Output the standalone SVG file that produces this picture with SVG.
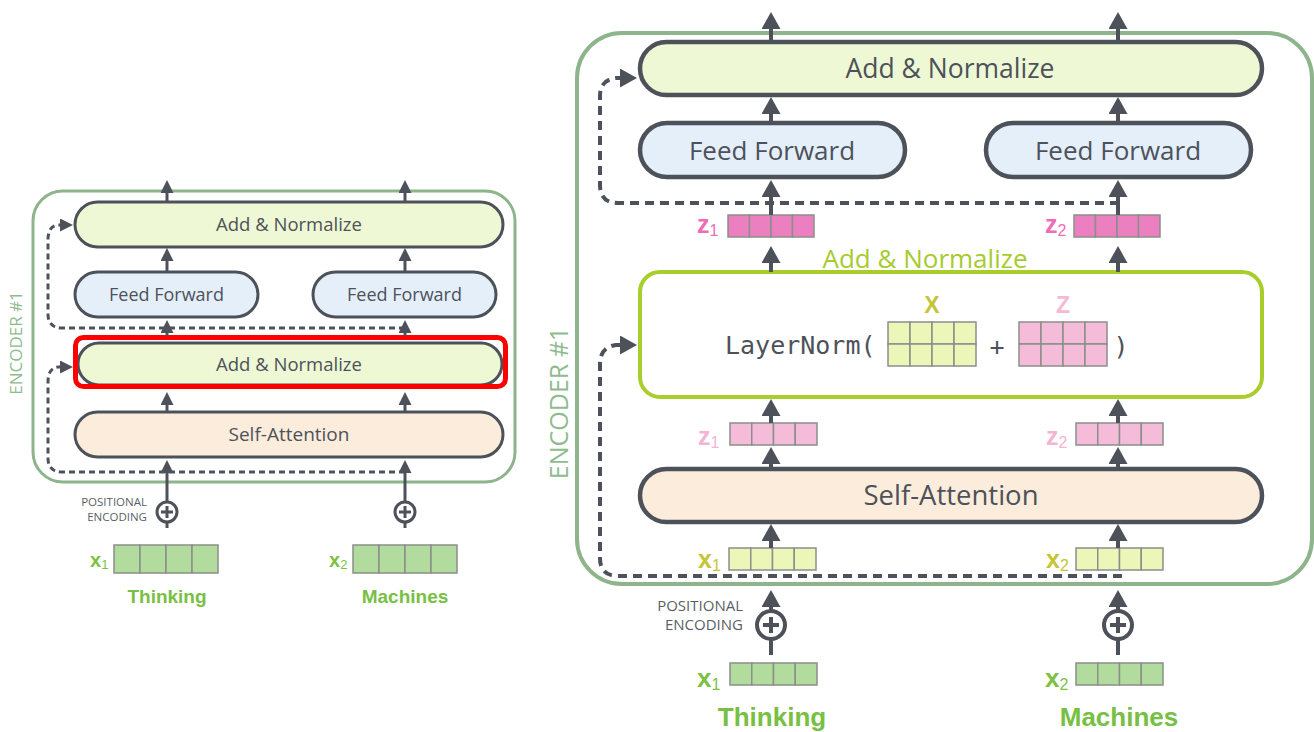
<svg xmlns="http://www.w3.org/2000/svg" width="1314" height="732" viewBox="0 0 1314 732">
<style>
.box{stroke:#4d525a;stroke-width:3}
.boxR{stroke:#4d525a;stroke-width:4.5}
.an{fill:#eef8d5}
.ff{fill:#e4effa}
.sa{fill:#fcecdc}
.lbl{font-family:"Open Sans","Liberation Sans",sans-serif;fill:#4d525a;text-anchor:middle}
.cont{fill:none;stroke:#8db48b}
.enc{font-family:"Open Sans","Liberation Sans",sans-serif;fill:#8fbb8f;text-anchor:middle}
.pos{font-family:"Open Sans","Liberation Sans",sans-serif;fill:#5a5f66;text-anchor:end}
.word{font-family:"Liberation Sans",Arial,sans-serif;font-weight:bold;fill:#77c043;text-anchor:middle}
.sym{font-family:"Liberation Sans",Arial,sans-serif;font-weight:bold}
.sub{font-weight:normal}
.arr{fill:none;stroke:#4d525a;stroke-width:4}
.arrS{fill:none;stroke:#4d525a;stroke-width:3}
.dash{fill:none;stroke:#4d525a;stroke-width:4;stroke-dasharray:9 6}
.dashS{fill:none;stroke:#4d525a;stroke-width:3;stroke-dasharray:6 4}
.cg rect{stroke:#8a8f8a;stroke-width:1.5}
.green rect{fill:#b2dc9e}
.yel rect{fill:#edf6b9}
.pk rect{fill:#f4bcd9}
.pkd rect{fill:#ec7fbf}
.oplus{fill:none;stroke:#4d525a}
</style>
<defs>
<marker id="ahL" markerUnits="userSpaceOnUse" markerWidth="17" markerHeight="19" refX="6" refY="9.5" orient="auto"><path d="M0,0 L17,9.5 L0,19 z" fill="#4d525a"/></marker>
<marker id="ahS" markerUnits="userSpaceOnUse" markerWidth="13" markerHeight="13" refX="4" refY="6.5" orient="auto"><path d="M0,0 L13,6.5 L0,13 z" fill="#4d525a"/></marker>
</defs>
<rect width="1314" height="732" fill="#ffffff"/>

<!-- ===== LEFT DIAGRAM ===== -->
<g id="left-encoder">
<rect class="cont" x="33" y="191" width="482" height="291" rx="30" stroke-width="3"/>
<text class="enc" font-size="17" transform="translate(22,343) rotate(-90)">ENCODER #1</text>
</g>
<g id="L-addnorm-top">
<rect class="box an" x="75" y="202" width="428" height="45" rx="22.5"/>
<text class="lbl" x="289" y="231" font-size="18.5">Add &amp; Normalize</text>
</g>
<g id="L-ff1">
<rect class="box ff" x="75" y="272" width="183" height="45" rx="22.5"/>
<text class="lbl" x="166.5" y="301" font-size="18">Feed Forward</text>
</g>
<g id="L-ff2">
<rect class="box ff" x="313" y="272" width="183" height="45" rx="22.5"/>
<text class="lbl" x="404.5" y="301" font-size="18">Feed Forward</text>
</g>
<g id="L-addnorm-1">
<rect class="box an" x="78" y="343" width="424" height="42" rx="21"/>
<text class="lbl" x="289" y="370.5" font-size="18.5">Add &amp; Normalize</text>
<rect x="75.5" y="337.5" width="430" height="49" rx="8" fill="none" stroke="#ff0000" stroke-width="5"/>
</g>
<g id="L-selfattn">
<rect class="box sa" x="75" y="412" width="428" height="45" rx="22.5"/>
<text class="lbl" x="289" y="441" font-size="19">Self-Attention</text>
</g>
<g id="L-pos">
<text class="pos" x="147" y="506" font-size="11.5">POSITIONAL</text>
<text class="pos" x="147" y="521" font-size="11.5">ENCODING</text>
</g>
<g id="L-oplus1">
<circle class="oplus" cx="167" cy="512" r="10" stroke-width="3"/>
<path d="M161,512 H173 M167,506 V518" stroke="#4d525a" stroke-width="3"/>
</g>
<g id="L-oplus2">
<circle class="oplus" cx="405" cy="512" r="10" stroke-width="3"/>
<path d="M399,512 H411 M405,506 V518" stroke="#4d525a" stroke-width="3"/>
</g>
<g id="L-x1">
<text class="sym" x="90" y="567" font-size="20" fill="#7cc142">x<tspan class="sub" font-size="13" dy="2">1</tspan></text>
<g class="cg green"><rect x="114" y="545" width="26" height="28"/><rect x="140" y="545" width="26" height="28"/><rect x="166" y="545" width="26" height="28"/><rect x="192" y="545" width="26" height="28"/></g>
<text class="word" x="167" y="603" font-size="19">Thinking</text>
</g>
<g id="L-x2">
<text class="sym" x="329" y="567" font-size="20" fill="#7cc142">x<tspan class="sub" font-size="13" dy="2">2</tspan></text>
<g class="cg green"><rect x="353" y="545" width="26" height="28"/><rect x="379" y="545" width="26" height="28"/><rect x="405" y="545" width="26" height="28"/><rect x="431" y="545" width="26" height="28"/></g>
<text class="word" x="405" y="603" font-size="19">Machines</text>
</g>

<!-- ===== RIGHT DIAGRAM ===== -->
<g id="right-encoder">
<rect class="cont" x="577" y="33" width="735" height="551" rx="45" stroke-width="4"/>
<text class="enc" font-size="25" transform="translate(568,403) rotate(-90)">ENCODER #1</text>
</g>
<g id="R-addnorm-top">
<rect class="boxR an" x="640" y="42" width="622" height="53" rx="26.5"/>
<text class="lbl" x="950" y="78" font-size="26.5">Add &amp; Normalize</text>
</g>
<g id="R-ff1">
<rect class="boxR ff" x="640" y="123" width="265" height="54" rx="27"/>
<text class="lbl" x="772" y="159.5" font-size="26">Feed Forward</text>
</g>
<g id="R-ff2">
<rect class="boxR ff" x="986" y="123" width="265" height="54" rx="27"/>
<text class="lbl" x="1118" y="159.5" font-size="26">Feed Forward</text>
</g>
<g id="R-z1-out">
<text class="sym" x="697" y="233" font-size="25" fill="#ee6db5">z<tspan class="sub" font-size="16" dy="3">1</tspan></text>
<g class="cg pkd"><rect x="728" y="215" width="21.5" height="22"/><rect x="749.5" y="215" width="21.5" height="22"/><rect x="771" y="215" width="21.5" height="22"/><rect x="792.5" y="215" width="21.5" height="22"/></g>
</g>
<g id="R-z2-out">
<text class="sym" x="1045" y="233" font-size="25" fill="#ee6db5">z<tspan class="sub" font-size="16" dy="3">2</tspan></text>
<g class="cg pkd"><rect x="1074" y="215" width="21.5" height="22"/><rect x="1095.5" y="215" width="21.5" height="22"/><rect x="1117" y="215" width="21.5" height="22"/><rect x="1138.5" y="215" width="21.5" height="22"/></g>
</g>
<g id="R-layernorm">
<text x="925" y="268" font-family="'Open Sans','Liberation Sans',sans-serif" font-size="26" fill="#a6cb2e" text-anchor="middle">Add &amp; Normalize</text>
<rect x="640" y="272" width="622" height="125" rx="20" fill="#ffffff" stroke="#a8cd2c" stroke-width="4"/>
<text x="725" y="354" font-family="'DejaVu Sans Mono','Liberation Mono',monospace" font-size="25" fill="#4d525a">LayerNorm(</text>
<text class="sym" x="932" y="313" font-size="23" fill="#c3c43a" text-anchor="middle">X</text>
<g class="cg yel"><rect x="888" y="322" width="22" height="22"/><rect x="910" y="322" width="22" height="22"/><rect x="932" y="322" width="22" height="22"/><rect x="954" y="322" width="22" height="22"/><rect x="888" y="344" width="22" height="22"/><rect x="910" y="344" width="22" height="22"/><rect x="932" y="344" width="22" height="22"/><rect x="954" y="344" width="22" height="22"/></g>
<text x="997" y="355" font-family="'DejaVu Sans Mono','Liberation Mono',monospace" font-size="25" fill="#4d525a" text-anchor="middle">+</text>
<text class="sym" x="1063" y="313" font-size="23" fill="#f5b8d6" text-anchor="middle">Z</text>
<g class="cg pk"><rect x="1019" y="322" width="22" height="22"/><rect x="1041" y="322" width="22" height="22"/><rect x="1063" y="322" width="22" height="22"/><rect x="1085" y="322" width="22" height="22"/><rect x="1019" y="344" width="22" height="22"/><rect x="1041" y="344" width="22" height="22"/><rect x="1063" y="344" width="22" height="22"/><rect x="1085" y="344" width="22" height="22"/></g>
<text x="1121" y="355" font-family="'DejaVu Sans Mono','Liberation Mono',monospace" font-size="25" fill="#4d525a" text-anchor="middle">)</text>
</g>
<g id="R-z1">
<text class="sym" x="698" y="445" font-size="25" fill="#f3b5d4">z<tspan class="sub" font-size="16" dy="3">1</tspan></text>
<g class="cg pk"><rect x="730" y="423" width="21.75" height="22"/><rect x="751.75" y="423" width="21.75" height="22"/><rect x="773.5" y="423" width="21.75" height="22"/><rect x="795.25" y="423" width="21.75" height="22"/></g>
</g>
<g id="R-z2">
<text class="sym" x="1046" y="445" font-size="25" fill="#f3b5d4">z<tspan class="sub" font-size="16" dy="3">2</tspan></text>
<g class="cg pk"><rect x="1076" y="423" width="21.75" height="22"/><rect x="1097.75" y="423" width="21.75" height="22"/><rect x="1119.5" y="423" width="21.75" height="22"/><rect x="1141.25" y="423" width="21.75" height="22"/></g>
</g>
<g id="R-selfattn">
<rect class="boxR sa" x="640" y="469" width="622" height="53" rx="26.5"/>
<text class="lbl" x="951" y="505" font-size="27.5">Self-Attention</text>
</g>
<g id="R-x1-in">
<text class="sym" x="698" y="568" font-size="25" fill="#c5c535">x<tspan class="sub" font-size="16" dy="3">1</tspan></text>
<g class="cg yel"><rect x="729" y="548" width="21.75" height="22"/><rect x="750.75" y="548" width="21.75" height="22"/><rect x="772.5" y="548" width="21.75" height="22"/><rect x="794.25" y="548" width="21.75" height="22"/></g>
</g>
<g id="R-x2-in">
<text class="sym" x="1046" y="568" font-size="25" fill="#c5c535">x<tspan class="sub" font-size="16" dy="3">2</tspan></text>
<g class="cg yel"><rect x="1076" y="548" width="21.75" height="22"/><rect x="1097.75" y="548" width="21.75" height="22"/><rect x="1119.5" y="548" width="21.75" height="22"/><rect x="1141.25" y="548" width="21.75" height="22"/></g>
</g>
<g id="R-pos">
<text class="pos" x="743" y="611" font-size="15">POSITIONAL</text>
<text class="pos" x="743" y="630" font-size="15">ENCODING</text>
</g>
<g id="R-oplus1">
<circle class="oplus" cx="771" cy="625" r="14" stroke-width="4"/>
<path d="M763,625 H779 M771,617 V633" stroke="#4d525a" stroke-width="4"/>
</g>
<g id="R-oplus2">
<circle class="oplus" cx="1118" cy="625" r="14" stroke-width="4"/>
<path d="M1110,625 H1126 M1118,617 V633" stroke="#4d525a" stroke-width="4"/>
</g>
<g id="R-x1">
<text class="sym" x="697" y="687" font-size="26" fill="#7cc142">x<tspan class="sub" font-size="16" dy="3">1</tspan></text>
<g class="cg green"><rect x="730" y="663" width="21.75" height="22"/><rect x="751.75" y="663" width="21.75" height="22"/><rect x="773.5" y="663" width="21.75" height="22"/><rect x="795.25" y="663" width="21.75" height="22"/></g>
<text class="word" x="772" y="726" font-size="26">Thinking</text>
</g>
<g id="R-x2">
<text class="sym" x="1045" y="687" font-size="26" fill="#7cc142">x<tspan class="sub" font-size="16" dy="3">2</tspan></text>
<g class="cg green"><rect x="1076" y="663" width="21.75" height="22"/><rect x="1097.75" y="663" width="21.75" height="22"/><rect x="1119.5" y="663" width="21.75" height="22"/><rect x="1141.25" y="663" width="21.75" height="22"/></g>
<text class="word" x="1119" y="726" font-size="26">Machines</text>
</g>

<!-- ===== CONNECTORS ===== -->
<g id="connectors">
<!-- left solid -->
<path class="arrS" marker-end="url(#ahS)" d="M167,202 V189"/>
<path class="arrS" marker-end="url(#ahS)" d="M405,202 V189"/>
<path class="arrS" marker-end="url(#ahS)" d="M167,272 V257"/>
<path class="arrS" marker-end="url(#ahS)" d="M405,272 V257"/>
<path class="arrS" marker-end="url(#ahS)" d="M167,336 V329"/>
<path class="arrS" marker-end="url(#ahS)" d="M405,336 V329"/>
<path class="arrS" marker-end="url(#ahS)" d="M167,412 V401"/>
<path class="arrS" marker-end="url(#ahS)" d="M405,412 V401"/>
<path class="arrS" marker-end="url(#ahS)" d="M167,501 V469"/>
<path class="arrS" marker-end="url(#ahS)" d="M405,501 V469"/>
<path class="arrS" d="M167,522 V528 M405,522 V528"/>
<!-- left residual -->
<path class="dashS" marker-end="url(#ahS)" d="M405,328 H62 Q48,328 48,314 V240 Q48,226 58,225 L64,225"/>
<path class="dashS" marker-end="url(#ahS)" d="M405,472 H62 Q48,472 48,458 V382 Q48,368 58,367 L64,367"/>
<!-- right solid -->
<path class="arr" marker-end="url(#ahL)" d="M771,42 V23"/>
<path class="arr" marker-end="url(#ahL)" d="M1118,42 V23"/>
<path class="arr" marker-end="url(#ahL)" d="M771,123 V108"/>
<path class="arr" marker-end="url(#ahL)" d="M1118,123 V108"/>
<path class="arr" marker-end="url(#ahL)" d="M771,215 V191"/>
<path class="arr" marker-end="url(#ahL)" d="M1118,215 V191"/>
<path class="arr" marker-end="url(#ahL)" d="M771,272 V257"/>
<path class="arr" marker-end="url(#ahL)" d="M1118,272 V257"/>
<path class="arr" marker-end="url(#ahL)" d="M771,423 V410"/>
<path class="arr" marker-end="url(#ahL)" d="M1118,423 V410"/>
<path class="arr" marker-end="url(#ahL)" d="M771,469 V458"/>
<path class="arr" marker-end="url(#ahL)" d="M1118,469 V458"/>
<path class="arr" marker-end="url(#ahL)" d="M771,548 V535"/>
<path class="arr" marker-end="url(#ahL)" d="M1118,548 V535"/>
<path class="arr" marker-end="url(#ahL)" d="M771,611 V601"/>
<path class="arr" marker-end="url(#ahL)" d="M1118,611 V601"/>
<path class="arr" d="M771,639 V655 M1118,639 V655"/>
<!-- right residual -->
<path class="dash" marker-end="url(#ahL)" d="M1119,203 H618 Q600,203 600,185 V96 Q600,80 616,78 L626,78"/>
<path class="dash" marker-end="url(#ahL)" d="M1122,576 H618 Q600,576 600,558 V364 Q600,347 616,345 L626,345"/>
</g>
</svg>
